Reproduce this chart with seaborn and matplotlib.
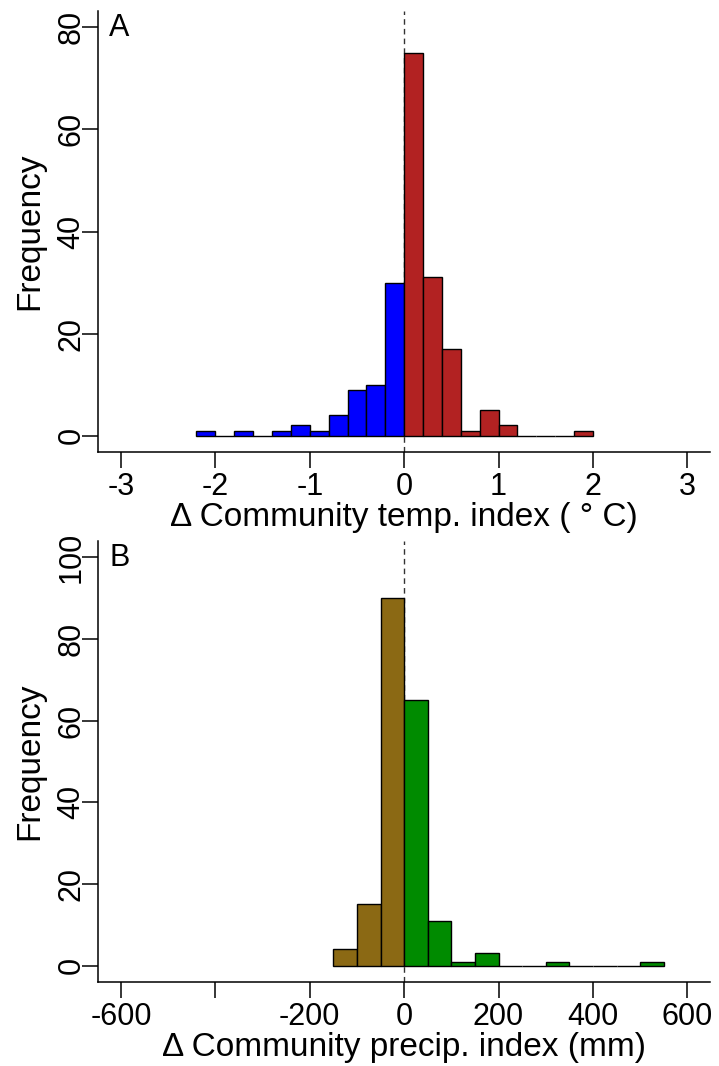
import matplotlib
matplotlib.use("Agg")
import matplotlib.pyplot as plt
import seaborn as sns
import numpy as np
import pandas as pd

# Histogram bins and counts for the change in community temperature index
temp_edges = [-2.2, -2.0, -1.8, -1.6, -1.4, -1.2, -1.0, -0.8, -0.6, -0.4, -0.2,
              0.0, 0.2, 0.4, 0.6, 0.8, 1.0, 1.2, 1.4, 1.6, 1.8, 2.0]
temp_counts = [1, 0, 1, 0, 1, 2, 1, 4, 9, 10, 30,
               75, 31, 17, 1, 5, 2, 0, 0, 0, 1]

# Histogram bins and counts for the change in community precipitation index
precip_edges = [-150, -100, -50, 0, 50, 100, 150, 200, 250, 300, 350, 400, 450, 500, 550]
precip_counts = [4, 15, 90, 65, 11, 1, 3, 0, 0, 1, 0, 0, 0, 1]

temp_xticks = [-3, -2, -1, 0, 1, 2, 3]
temp_xlabels = ["-3", "-2", "-1", "0", "1", "2", "3"]
temp_yticks = [0, 20, 40, 60, 80]
precip_xticks = [-600, -400, -200, 0, 200, 400, 600]
precip_xlabels = ["-600", "", "-200", "0", "200", "400", "600"]
precip_yticks = [0, 20, 40, 60, 80, 100]

sns.set_theme(style="ticks")
plt.rcParams['font.family'] = ['Liberation Sans', 'DejaVu Sans']
plt.rcParams.update({
    'axes.linewidth': 1.1,
    'axes.edgecolor': 'black',
    'text.color': 'black',
    'axes.labelcolor': 'black',
    'xtick.color': 'black',
    'ytick.color': 'black',
})

FS = 22        # tick labels and panel tags
FS_LAB = 24    # axis titles
W, H = 719, 1066
fig = plt.figure(figsize=(W / 100, H / 100), dpi=100)


def axes_px(x0, y0, x1, y1):
    return fig.add_axes([x0 / W, 1 - y1 / H, (x1 - x0) / W, (y1 - y0) / H])


def split_hist(ax, edges, counts, neg_color, pos_color):
    edges = np.asarray(edges, dtype=float)
    counts = np.asarray(counts, dtype=float)
    centers = (edges[:-1] + edges[1:]) / 2
    k = int(np.argmin(np.abs(edges)))  # index of the zero edge
    parts = [(centers[:k], counts[:k], edges[:k + 1], neg_color),
             (centers[k:], counts[k:], edges[k:], pos_color)]
    for c, w, e, col in parts:
        df = pd.DataFrame({"value": c, "count": w})
        sns.histplot(data=df, x="value", weights="count", bins=list(e),
                     color=col, alpha=1, edgecolor="black", linewidth=1.0,
                     ax=ax, zorder=2)
    ax.axvline(0, color="#333333", lw=1.0, ls=(0, (4, 3)), zorder=1)


def style(ax, xlim, ylim, xticks, xlabels, yticks, xlabel, tag):
    ax.set_xlim(*xlim)
    ax.set_ylim(*ylim)
    sns.despine(ax=ax)
    ax.set_xticks(xticks)
    ax.set_xticklabels(xlabels, fontsize=FS)
    ax.set_yticks(yticks)
    ax.set_yticklabels([str(v) for v in yticks], fontsize=FS, rotation=90, va="center")
    ax.tick_params(axis="both", direction="out", length=11.5, width=1.1, color="black")
    ax.tick_params(axis="x", pad=3)
    ax.tick_params(axis="y", pad=-3)
    ax.set_xlabel(xlabel, fontsize=FS_LAB, labelpad=0)
    ax.set_ylabel("Frequency", fontsize=FS_LAB)
    ax.yaxis.set_label_coords(-0.087, 0.5)
    ax.text(0.018, 0.995, tag, transform=ax.transAxes, ha="left", va="top", fontsize=FS)
    ax.grid(False)


axA = axes_px(98.3, 11, 710, 452)
split_hist(axA, temp_edges, temp_counts, "#0000FF", "#B22222")
style(axA, (-3.24, 3.24), (-3.2, 83.2), temp_xticks, temp_xlabels, temp_yticks,
      "Δ Community temp. index ( ° C)", "A")

axB = axes_px(98.3, 541, 710, 982)
split_hist(axB, precip_edges, precip_counts, "#8B6914", "#008B00")
style(axB, (-648, 648), (-4, 104), precip_xticks, precip_xlabels, precip_yticks,
      "Δ Community precip. index (mm)", "B")

fig.savefig("out.png", dpi=100, facecolor="white")
